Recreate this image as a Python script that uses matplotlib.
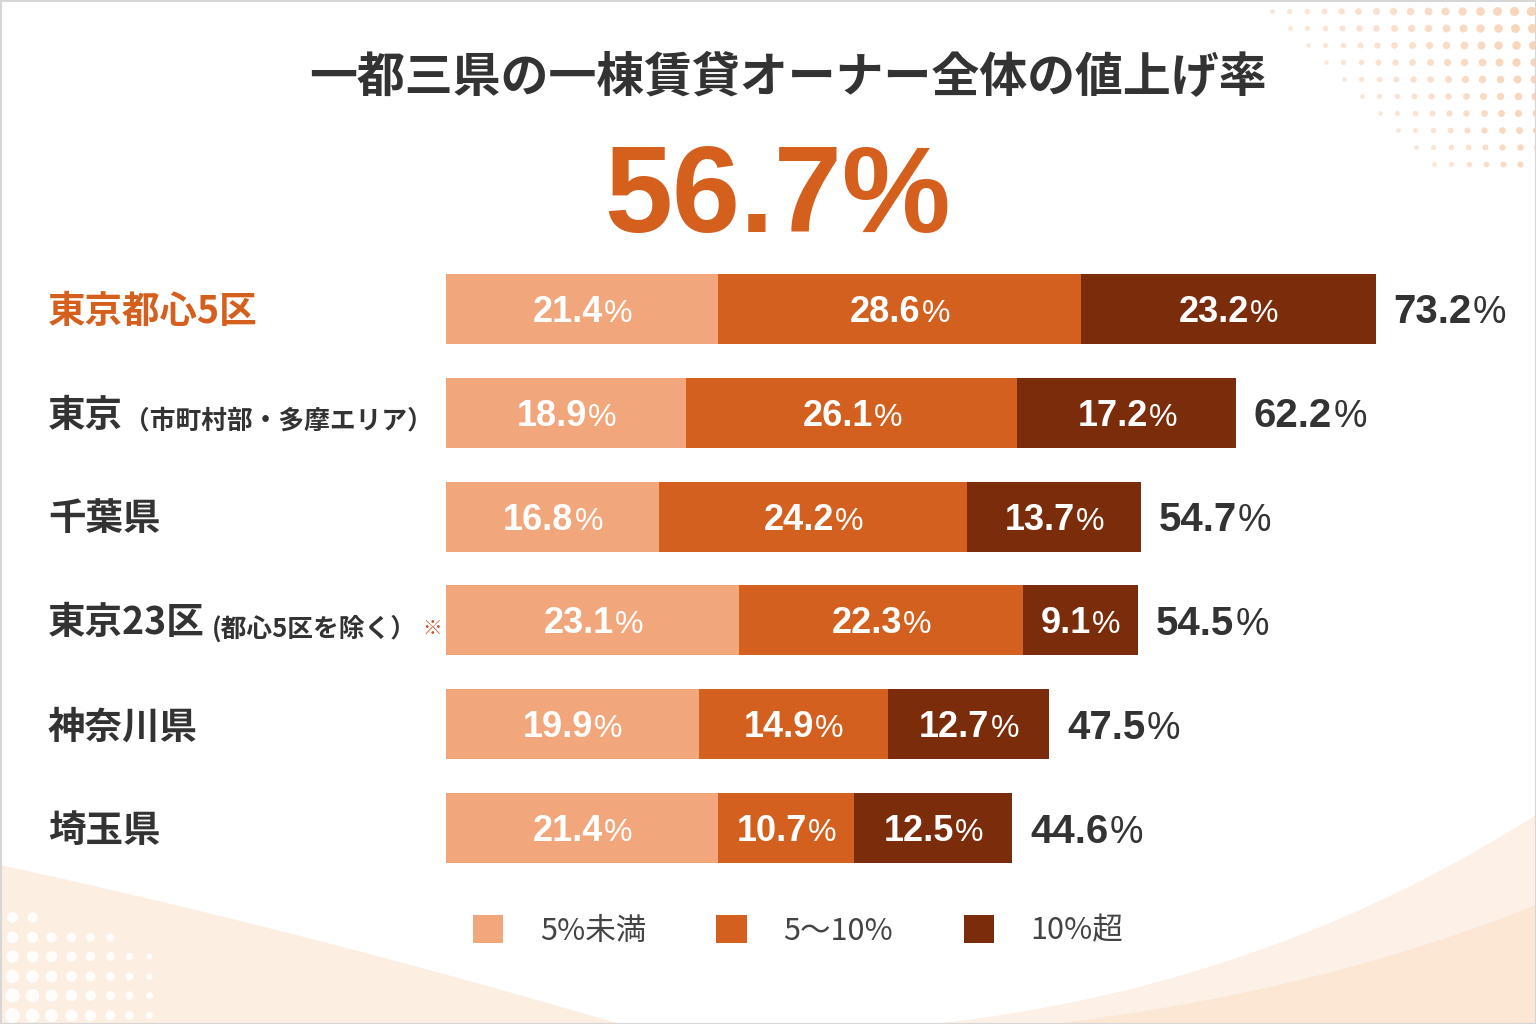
import numpy as np
import matplotlib
matplotlib.use('Agg')
import matplotlib.pyplot as plt
from matplotlib.patches import Patch, Rectangle, Polygon
from matplotlib.transforms import blended_transform_factory

plt.rcParams['font.family'] = ['Noto Sans CJK JP', 'DejaVu Sans']

# data
title = '一都三県の一棟賃貸オーナー全体の値上げ率'
overall = '56.7%'
regions = ['東京都心5区', '東京', '千葉県', '東京23区', '神奈川県', '埼玉県']
region_notes = ['', '（市町村部・多摩エリア）', '', '(都心5区を除く）', '', '']
under5 = np.array([21.4, 18.9, 16.8, 23.1, 19.9, 21.4])
mid = np.array([28.6, 26.1, 24.2, 22.3, 14.9, 10.7])
over10 = np.array([23.2, 17.2, 13.7, 9.1, 12.7, 12.5])
totals = [73.2, 62.2, 54.7, 54.5, 47.5, 44.6]
legend_labels = ['5%未満', '5～10%', '10%超']

colors = ['#F2A67B', '#D4601F', '#7B2D0B']
orange = '#D5601E'
dark = '#333333'
num_font = ['Liberation Sans', 'DejaVu Sans']

W, H = 1536, 1024
fig = plt.figure(figsize=(W / 100, H / 100), dpi=100)
fig.patch.set_facecolor('white')


def bezier(p0, p1, p2, n=60):
    t = np.linspace(0, 1, n)[:, None]
    p0, p1, p2 = map(np.array, (p0, p1, p2))
    return (1 - t) ** 2 * p0 + 2 * (1 - t) * t * p1 + t ** 2 * p2


# background decorations (pixel coords)
bg = fig.add_axes([0, 0, 1, 1], zorder=0)
bg.set_xlim(0, W)
bg.set_ylim(H, 0)
bg.axis('off')

left_curve = bezier((0, 865), (300, 930), (620, 1024))
bg.add_patch(Polygon(np.vstack([left_curve, [(0, H)]]), closed=True,
                     facecolor='#FDEEE2', edgecolor='none'))
outer = bezier((650, 1030), (1150, 1060), (1536, 815))
bg.add_patch(Polygon(np.vstack([outer, [(W, H)]]), closed=True,
                     facecolor='#FDF0E6', edgecolor='none'))
inner = bezier((1000, 1030), (1300, 1000), (1536, 905))
bg.add_patch(Polygon(np.vstack([inner, [(W, H)]]), closed=True,
                     facecolor='#FCE6D4', edgecolor='none'))

# dots top right
for j in range(10):
    yy = 11 + 17 * j
    x0 = 1272 + 18 * j
    xs = np.arange(x0, W + 5, 17.3)
    for xx in xs:
        k = (xx - x0) / max(W - x0, 1)
        s = 12 + 34 * k * (1 - j / 12)
        bg.scatter(xx, yy, s=s, color='#F8D0B2', alpha=0.5 + 0.4 * k, lw=0)

# white dots bottom left
for r in range(6):
    yy = 917 + 19.5 * r
    ncol = min(2 + 4 * r, 8) if r > 0 else 2
    for c in range(ncol):
        xx = 12 + 19.5 * c
        s = 110 * (1 - c / 9) * (0.55 + 0.1 * r)
        bg.scatter(xx, yy, s=s, color='white', alpha=0.9, lw=0)

bg.add_patch(Rectangle((0.5, 0.5), W - 1, H - 1, fill=False,
                       edgecolor='#D6D6D6', lw=1.5))

# title and overall value
fig.text(788 / W, 1 - 92 / H, title, ha='center', va='baseline',
         fontsize=34.5, fontweight='bold', color=dark)
fig.text(778 / W, 1 - 232 / H, overall, ha='center', va='baseline',
         fontsize=88, fontweight='bold', color=orange,
         family=['Liberation Sans', 'DejaVu Sans'])

# bars
px_per_pct = 12.7
ax = fig.add_axes([446 / W, 1 - 880 / H, 1090 / W, 623 / H], zorder=1)
ax.patch.set_alpha(0)
ax.set_xlim(0, 1090 / px_per_pct)
ax.set_ylim(5.5, -0.5)
ax.axis('off')

y = np.arange(len(regions))
bh = 70 / 104
ax.barh(y, under5, height=bh, color=colors[0], label=legend_labels[0])
ax.barh(y, mid, left=under5, height=bh, color=colors[1], label=legend_labels[1])
ax.barh(y, over10, left=under5 + mid, height=bh, color=colors[2], label=legend_labels[2])

pending = []


def pct_text(x, yv, value, size, pct_size, color, ha='center', dx=0):
    num = ax.text(x, yv, f'{value:.1f}', fontsize=size, fontweight='bold',
                  color=color, family=num_font, ha='left', va='baseline')
    sign = ax.text(x, yv, '%', fontsize=pct_size, fontweight='normal',
                   color=color, family=num_font, ha='left', va='baseline')
    pending.append((num, sign, x, yv, size, ha, dx))


for i in range(len(regions)):
    starts = [0, under5[i], under5[i] + mid[i]]
    for s, v in zip(starts, [under5[i], mid[i], over10[i]]):
        pct_text(s + v / 2, i, v, 26, 23, 'white')
    pct_text(totals[i], i, totals[i], 29, 27, dark, ha='left', dx=18)

# region labels
lab_tr = blended_transform_factory(fig.transFigure, ax.transData)
for i, name in enumerate(regions):
    col = orange if i == 0 else dark
    t = ax.annotate(name, xy=(48 / W, i), xycoords=lab_tr, xytext=(0, -10),
                    textcoords='offset points', ha='left', va='baseline',
                    fontsize=27, fontweight='bold', color=col)
    if region_notes[i]:
        gap = 1 if i == 1 else 5
        n = ax.annotate(region_notes[i], xy=(1, 0), xycoords=t, xytext=(gap, 0),
                        textcoords='offset points', ha='left', va='bottom',
                        fontsize=18.5, fontweight='bold', color=dark)
        if i == 3:
            ax.annotate('※', xy=(1, 0.5), xycoords=n, xytext=(4, 0),
                        textcoords='offset points', ha='left', va='center',
                        fontsize=14, color='#C8502A')

# legend
handles = [Patch(facecolor=c, edgecolor='none') for c in colors]
fig.legend(handles, legend_labels, loc='center', bbox_to_anchor=(798 / W, 1 - 931 / H),
           ncol=3, frameon=False, prop={'size': 22}, labelcolor='#444444',
           handlelength=1.0, handleheight=1.0, handletextpad=1.2, columnspacing=2.3)

# place number + smaller percent sign pairs
fig.canvas.draw()
renderer = fig.canvas.get_renderer()
inv = ax.transData.inverted()
for num, sign, x, yv, size, ha, dx in pending:
    w1 = num.get_window_extent(renderer).width
    w2 = sign.get_window_extent(renderer).width
    cx, cy = ax.transData.transform((x, yv))
    cap = 0.716 * size * fig.dpi / 72
    sx = cx - (w1 + w2) / 2 if ha == 'center' else cx + dx
    by = cy - cap / 2
    num.set_position(inv.transform((sx, by)))
    sign.set_position(inv.transform((sx + w1 + 1, by)))

fig.savefig('out.png', dpi=100, facecolor=fig.get_facecolor())
